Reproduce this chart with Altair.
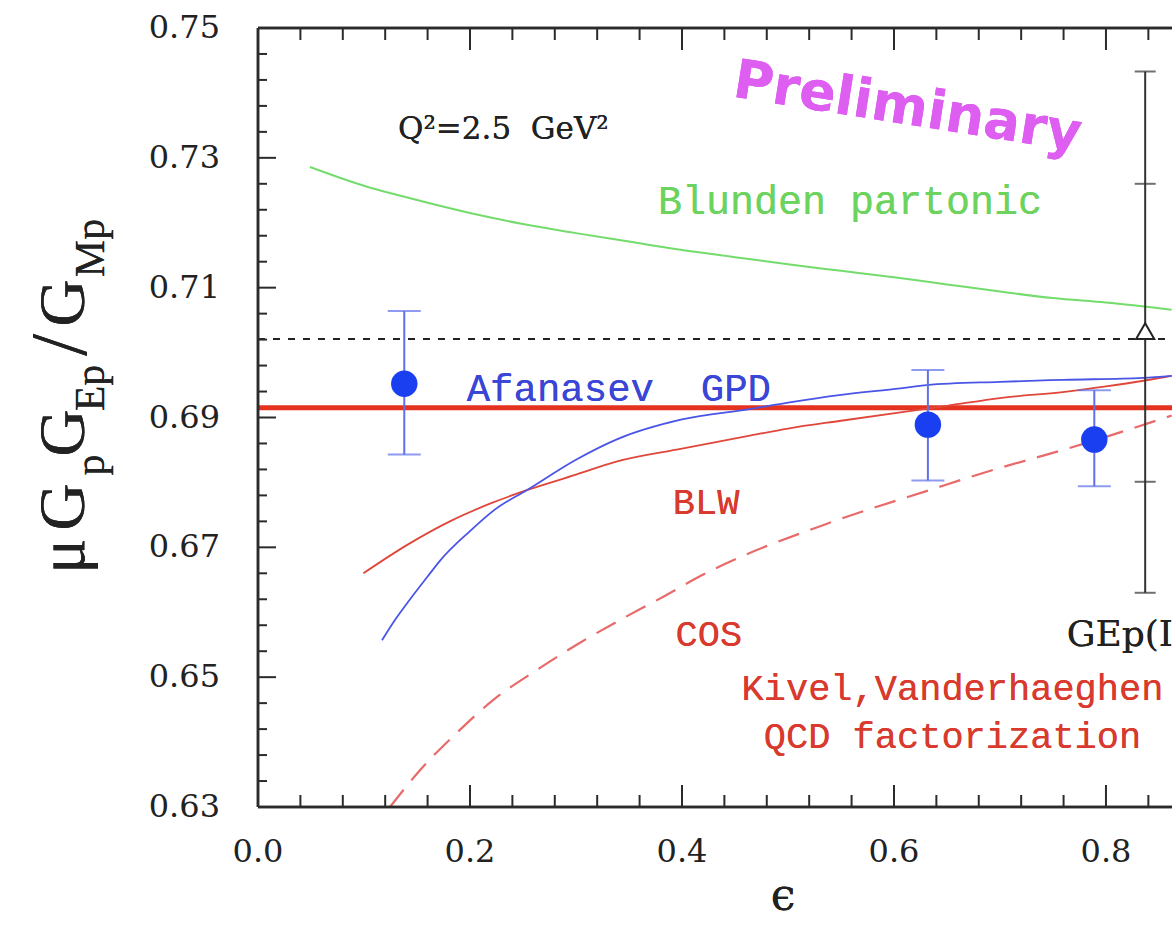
import altair as alt
import pandas as pd

# ---------------- data ----------------
X_MAX = 0.8623
Y_MIN, Y_MAX = 0.63, 0.75
W, H = 914, 779

x_major = [0.0, 0.2, 0.4, 0.6, 0.8]
x_minor = [0.04, 0.08, 0.12, 0.16, 0.24, 0.28, 0.32, 0.36, 0.44, 0.48, 0.52, 0.56,
           0.64, 0.68, 0.72, 0.76, 0.84]
y_major = [0.63, 0.65, 0.67, 0.69, 0.71, 0.73, 0.75]
y_minor = [0.634, 0.638, 0.642, 0.646, 0.654, 0.658, 0.662, 0.666, 0.674, 0.678,
           0.682, 0.686, 0.694, 0.698, 0.702, 0.706, 0.714, 0.718, 0.722, 0.726,
           0.734, 0.738, 0.742, 0.746]

# Blunden partonic (green)
green_x = [0.049, 0.10, 0.15, 0.20, 0.25, 0.30, 0.35, 0.40, 0.45, 0.50, 0.55, 0.60,
           0.65, 0.70, 0.75, 0.80, 0.862]
green_y = [0.7286, 0.7257, 0.7235, 0.7215, 0.7198, 0.7184, 0.7171, 0.7158, 0.7147,
           0.7136, 0.7126, 0.7116, 0.7105, 0.7094, 0.7084, 0.7077, 0.7066]

# Afanasev GPD (blue)
blue_x = [0.117, 0.130, 0.143, 0.160, 0.172, 0.20, 0.225, 0.2535, 0.30, 0.338, 0.40,
          0.464, 0.50, 0.55, 0.606, 0.631, 0.70, 0.76, 0.835, 0.862]
blue_y = [0.6557, 0.6590, 0.6619, 0.6655, 0.6680, 0.6725, 0.6760, 0.6788, 0.6835,
          0.6866, 0.6897, 0.6913, 0.6923, 0.6935, 0.6945, 0.6950, 0.6955, 0.6958,
          0.6961, 0.6964]

# BLW (thin red)
blw_x = [0.0994, 0.14, 0.181, 0.22, 0.2535, 0.30, 0.338, 0.40, 0.464, 0.50, 0.55,
         0.606, 0.65, 0.70, 0.763, 0.80, 0.837, 0.862]
blw_y = [0.6660, 0.6703, 0.6740, 0.6768, 0.6788, 0.6812, 0.6832, 0.6852, 0.6872,
         0.6883, 0.6895, 0.6908, 0.6918, 0.6930, 0.6940, 0.6948, 0.6957, 0.6964]

# COS / Kivel-Vanderhaeghen (dashed red)
cos_x = [0.1245, 0.153, 0.1874, 0.222, 0.263, 0.3006, 0.3415, 0.3824, 0.420, 0.543,
         0.637, 0.675, 0.788, 0.862]
cos_y = [0.6300, 0.6357, 0.6414, 0.6465, 0.6511, 0.6550, 0.6588, 0.6624, 0.6658,
         0.6740, 0.6790, 0.6810, 0.6864, 0.6903]

# data points (blue)
pt_x = [0.138, 0.632, 0.789]
pt_y = [0.6952, 0.6889, 0.6866]
pt_lo = [0.6843, 0.6803, 0.6794]
pt_hi = [0.7064, 0.6973, 0.6942]

# GEp(III) point (open triangle)
gep_x = [0.837]
gep_y = [0.7033]
gep_tot_lo = [0.6630]
gep_tot_hi = [0.7433]
gep_stat_lo = [0.6801]
gep_stat_hi = [0.7260]

dotted_level = [0.7021]
thick_level = [0.6915]

# ---------------- chart ----------------
xs = alt.Scale(domain=[0, X_MAX], nice=False, zero=False)
ys = alt.Scale(domain=[Y_MIN, Y_MAX], nice=False, zero=False)

SERIF = "DejaVu Serif"
MONO = "Liberation Mono"
FRAME = "#2b2b2b"
NB = "\u00a0"

layers = []

# thick red line (base layer carries the scales)
thick_df = pd.DataFrame({"eps": [0.0, X_MAX], "ratio": thick_level * 2})
layers.append(alt.Chart(thick_df).mark_line(color="#e5321f", strokeWidth=5, clip=True)
              .encode(x=alt.X("eps:Q", scale=xs, axis=None),
                      y=alt.Y("ratio:Q", scale=ys, axis=None)))

dot_df = pd.DataFrame({"eps": [0.0, X_MAX], "ratio": dotted_level * 2})
layers.append(alt.Chart(dot_df).mark_line(color="#222", strokeWidth=2,
                                          strokeDash=[7, 8], clip=True)
              .encode(x=alt.X("eps:Q", axis=None), y=alt.Y("ratio:Q", axis=None)))


def curve(xv, yv, color, width, dash=None):
    df = pd.DataFrame({"eps": xv, "ratio": yv})
    kw = dict(color=color, strokeWidth=width, clip=True, interpolate="monotone")
    if dash:
        kw["strokeDash"] = dash
    return alt.Chart(df).mark_line(**kw).encode(
        x=alt.X("eps:Q", axis=None), y=alt.Y("ratio:Q", axis=None))


layers.append(curve(green_x, green_y, "#74dc6c", 2))
layers.append(curve(blw_x, blw_y, "#e0473a", 1.8))
layers.append(curve(blue_x, blue_y, "#4a55e6", 1.8))
layers.append(curve(cos_x, cos_y, "#e86a6a", 2.2, [22, 12]))

# blue error bars
err_df = pd.DataFrame({"eps": pt_x, "lo": pt_lo, "hi": pt_hi, "ratio": pt_y})
layers.append(alt.Chart(err_df).mark_rule(color="#5f70e8", strokeWidth=2)
              .encode(x=alt.X("eps:Q", axis=None), y=alt.Y("lo:Q", axis=None), y2="hi:Q"))
cap_df = pd.DataFrame({"eps": pt_x * 2, "ratio": pt_lo + pt_hi})
layers.append(alt.Chart(cap_df).mark_tick(color="#5f70e8", orient="horizontal",
                                          size=33, thickness=2)
              .encode(x=alt.X("eps:Q", axis=None), y=alt.Y("ratio:Q", axis=None)))
layers.append(alt.Chart(err_df).mark_circle(color="#1a3ff0", size=700, opacity=1)
              .encode(x=alt.X("eps:Q", axis=None), y=alt.Y("ratio:Q", axis=None)))

# GEp(III) black error bar
gep_df = pd.DataFrame({"eps": gep_x, "ratio": gep_y, "lo": gep_tot_lo, "hi": gep_tot_hi})
layers.append(alt.Chart(gep_df).mark_rule(color="#333", strokeWidth=2)
              .encode(x=alt.X("eps:Q", axis=None), y=alt.Y("lo:Q", axis=None), y2="hi:Q"))
gcap_df = pd.DataFrame({"eps": gep_x * 4,
                        "ratio": gep_tot_lo + gep_tot_hi + gep_stat_lo + gep_stat_hi})
layers.append(alt.Chart(gcap_df).mark_tick(color="#333", orient="horizontal",
                                           size=21, thickness=2)
              .encode(x=alt.X("eps:Q", axis=None), y=alt.Y("ratio:Q", axis=None)))
layers.append(alt.Chart(gep_df).mark_point(shape="triangle-up", size=330, filled=True,
                                           fill="white", stroke="#222", strokeWidth=2,
                                           opacity=1)
              .encode(x=alt.X("eps:Q", axis=None), y=alt.Y("ratio:Q", axis=None)))


# frame: inward ticks, borders, tick labels
def tick_rules(vals, side, length):
    df = pd.DataFrame({"v": vals})
    m = alt.Chart(df).mark_rule(color=FRAME, strokeWidth=2)
    if side == "left":
        return m.encode(y=alt.Y("v:Q", axis=None), x=alt.value(0), x2=alt.value(length))
    if side == "bottom":
        return m.encode(x=alt.X("v:Q", axis=None), y=alt.value(H), y2=alt.value(H - length))
    return m.encode(x=alt.X("v:Q", axis=None), y=alt.value(0), y2=alt.value(length))


layers.append(tick_rules(y_major, "left", 18))
layers.append(tick_rules(y_minor, "left", 9))
layers.append(tick_rules(x_major, "bottom", 22))
layers.append(tick_rules(x_minor, "bottom", 12))
layers.append(tick_rules(x_major, "top", 22))
layers.append(tick_rules(x_minor, "top", 12))
frame = alt.Chart(thick_df).mark_rule(color=FRAME, strokeWidth=2.5)
layers.append(frame.encode(x=alt.value(0), x2=alt.value(W), y=alt.value(0)))
layers.append(frame.encode(x=alt.value(0), x2=alt.value(W), y=alt.value(H)))
layers.append(frame.encode(x=alt.value(0), y=alt.value(0), y2=alt.value(H)))

xl_df = pd.DataFrame({"v": x_major})
layers.append(alt.Chart(xl_df).mark_text(font=SERIF, fontSize=32, color="#222",
                                         baseline="top", align="center")
              .encode(x=alt.X("v:Q", axis=None), y=alt.value(H + 30),
                      text=alt.Text("v:Q", format=".1f")))
yl_df = pd.DataFrame({"v": y_major})
layers.append(alt.Chart(yl_df).mark_text(font=SERIF, fontSize=32, color="#222",
                                         baseline="middle", align="right")
              .encode(y=alt.Y("v:Q", axis=None), x=alt.value(-38),
                      text=alt.Text("v:Q", format=".2f")))
layers.append(alt.Chart(thick_df).mark_text(text="ϵ", font=SERIF, fontSize=44,
                                            color="#222", baseline="middle",
                                            align="center")
              .encode(x=alt.value(525), y=alt.value(H + 90)))


# annotations
def label(text, x, y, color, size, font=MONO, align="center", weight="normal",
          angle=0, baseline="middle", clip=False):
    kw = dict(text=text, color=color, fontSize=size, font=font, align=align,
              fontWeight=weight, baseline=baseline, clip=clip)
    if angle:
        kw["angle"] = angle
    return alt.Chart(thick_df).mark_text(**kw).encode(
        x=alt.XDatum(x, axis=None), y=alt.YDatum(y, axis=None))


layers.append(label("Q²=2.5" + NB + NB + "GeV²", 0.1321, 0.7343, "#222", 31,
                    font=SERIF, align="left"))
layers.append(label("Preliminary", 0.6104, 0.7352, "#dd5ef0", 54, font="DejaVu Sans",
                    weight="bold", angle=9, baseline="alphabetic"))
layers.append(label("Blunden partonic", 0.5585, 0.7232, "#6bd35e", 40))
layers.append(label("Afanasev" + NB + NB + "GPD", 0.1969, 0.6944, "#3a47d6", 39,
                    align="left"))
layers.append(label("BLW", 0.4227, 0.6768, "#d93a2e", 37))
layers.append(label("COS", 0.4254, 0.6565, "#d93a2e", 37))
layers.append(label("Kivel,Vanderhaeghen", 0.6552, 0.6482, "#d93a2e", 37))
layers.append(label("QCD factorization", 0.6552, 0.6408, "#d93a2e", 37))
layers.append(label("GEp(III)", 0.7630, 0.6565, "#222", 36, font=SERIF, align="left",
                    clip=True))


# y-axis title built from pieces (rotated, with subscripts)
def title_piece(text, px, py, size):
    return alt.Chart(thick_df).mark_text(
        text=text, angle=270, font="Liberation Serif", fontSize=size, color="#222",
        align="center", baseline="alphabetic"
    ).encode(x=alt.value(px - 258), y=alt.value(py - 28))


BIG, SUB = 66, 42
layers.append(title_piece("μ", 84, 556, BIG))
layers.append(title_piece("G", 84, 507, BIG))
layers.append(title_piece("p", 104, 465, SUB))
layers.append(title_piece("G", 84, 433, BIG))
layers.append(title_piece("Ep", 104, 388, SUB))
layers.append(title_piece("/", 86, 345, 80))
layers.append(title_piece("G", 84, 303, BIG))
layers.append(title_piece("Mp", 104, 248, SUB))

chart = alt.layer(*layers).properties(
    width=W, height=H, autosize="none",
    padding={"left": 258, "top": 28, "right": 0, "bottom": 119},
    background="white",
).configure_view(stroke=None)

chart.save("out.html", embed_options={"renderer": "svg", "actions": False})
